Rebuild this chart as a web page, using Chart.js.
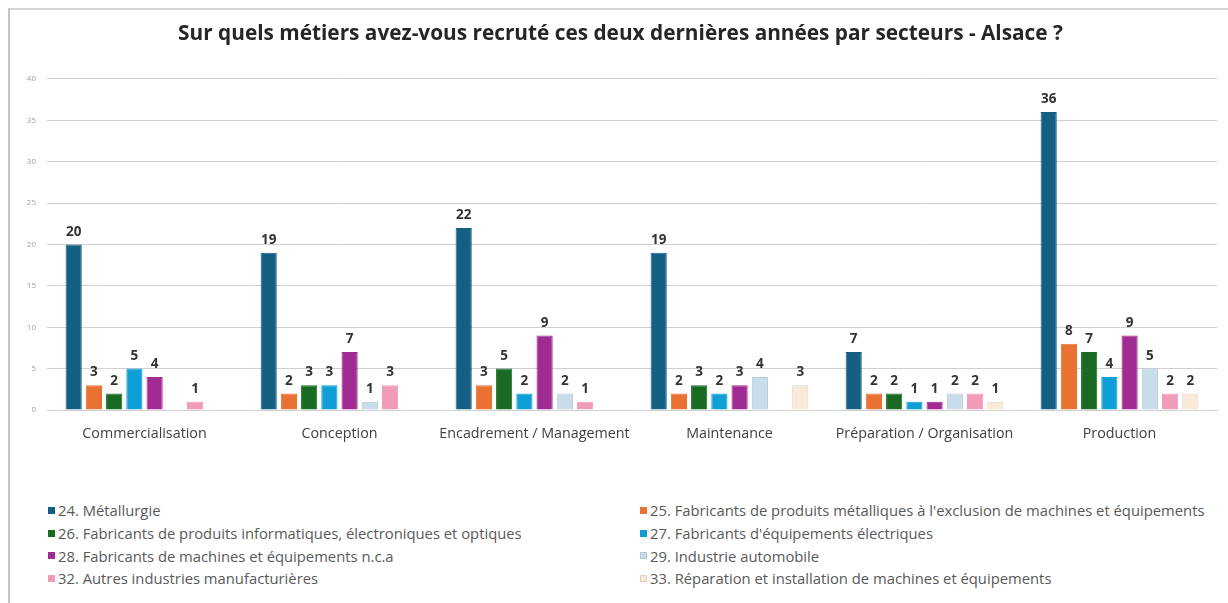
<!DOCTYPE html>
<html lang="fr">
<head>
<meta charset="utf-8">
<script src="https://cdn.jsdelivr.net/npm/chart.js@4.4.1/dist/chart.umd.min.js"></script>
<style>
    html, body {
        margin: 0;
        padding: 0;
        background: #ffffff;
        font-family: "Open Sans", "Liberation Sans", sans-serif;
    }

    .frame {
        position: absolute;
        left: 8px;
        top: 8px;
        width: 1220px;
        height: 595px;
        border-left: 2px solid #c4c4c4;
        border-top: 2px solid #d4d4d4;
    }

    .chart-box {
        position: absolute;
        left: 0;
        top: 0;
        width: 1228px;
        height: 460px;
    }

    .legend {
        position: absolute;
        left: 48px;
        top: 499px;
        width: 1180px;
        display: grid;
        grid-template-columns: 592px 586px;
        row-gap: 0;
        font-size: 14.8px;
        color: #595959;
    }

    .legend-item {
        display: flex;
        align-items: center;
        height: 22.7px;
        white-space: nowrap;
    }

    .legend-swatch {
        width: 7px;
        height: 7px;
        margin-right: 3px;
        box-sizing: border-box;
    }
</style>
</head>
<body>
<div class="frame"></div>
<div class="chart-box"><canvas id="recruit-chart" width="1228" height="460"></canvas></div>
<div class="legend" id="legend"></div>

<script>
const chartTitle = "Sur quels métiers avez-vous recruté ces deux dernières années par secteurs - Alsace ?";

const categories = [
    "Commercialisation",
    "Conception",
    "Encadrement / Management",
    "Maintenance",
    "Préparation / Organisation",
    "Production",
];

const seriesNames = [
    "24. Métallurgie",
    "25. Fabricants de produits métalliques à l'exclusion de machines et équipements",
    "26. Fabricants de produits informatiques, électroniques et optiques",
    "27. Fabricants d'équipements électriques",
    "28. Fabricants de machines et équipements n.c.a",
    "29. Industrie automobile",
    "32. Autres industries manufacturières",
    "33. Réparation et installation de machines et équipements",
];

const metallurgie = [20, 19, 22, 19, 7, 36];
const produitsMetalliques = [3, 2, 3, 2, 2, 8];
const produitsInformatiques = [2, 3, 5, 3, 2, 7];
const equipementsElectriques = [5, 3, 2, 2, 1, 4];
const machinesNca = [4, 7, 9, 3, 1, 9];
const automobile = [null, 1, 2, 4, 2, 5];
const autresIndustries = [1, 3, 1, null, 2, 2];
const reparation = [null, null, null, 3, 1, 2];

const yTicks = [0, 5, 10, 15, 20, 25, 30, 35, 40];

const seriesValues = [
    metallurgie,
    produitsMetalliques,
    produitsInformatiques,
    equipementsElectriques,
    machinesNca,
    automobile,
    autresIndustries,
    reparation,
];

const fillColors = ["#156082", "#e97132", "#196b24", "#0f9ed5", "#a02b93", "#c9dcea", "#f29bb8", "#f8ead8"];
const edgeColors = ["#156082", "#e97132", "#196b24", "#0f9ed5", "#a02b93", "#b3c9d9", "#f29bb8", "#e2d2bf"];

// labels above each bar, skipped for empty values
const barLabels = {
    id: "barLabels",
    afterDatasetsDraw(chart) {
        const ctx = chart.ctx;
        ctx.save();
        ctx.font = "bold 13.5px 'Open Sans', 'Liberation Sans', sans-serif";
        ctx.fillStyle = "#333333";
        ctx.textAlign = "center";
        ctx.textBaseline = "bottom";
        chart.data.datasets.forEach((dataset, i) => {
            const meta = chart.getDatasetMeta(i);
            meta.data.forEach((bar, j) => {
                const value = dataset.data[j];
                if (value === null || value === undefined) {
                    return;
                }
                ctx.fillText(String(value), bar.x, bar.y - 6);
            });
        });
        ctx.restore();
    },
};

const datasets = seriesNames.map((name, i) => ({
    label: name,
    data: seriesValues[i],
    backgroundColor: fillColors[i],
    borderColor: edgeColors[i],
    borderWidth: 1,
    categoryPercentage: 0.83,
    barPercentage: 0.8,
}));

new Chart(document.getElementById("recruit-chart"), {
    type: "bar",
    data: {
        labels: categories,
        datasets: datasets,
    },
    options: {
        responsive: false,
        animation: false,
        layout: {
            padding: { left: 24, right: 11, top: 0, bottom: 10 },
        },
        plugins: {
            legend: { display: false },
            tooltip: { enabled: false },
            title: {
                display: true,
                text: chartTitle,
                color: "#262626",
                font: { family: "'Open Sans', 'Liberation Sans', sans-serif", size: 20.8, weight: "bold" },
                padding: { top: 22, bottom: 32 },
            },
        },
        scales: {
            x: {
                afterFit(scale) {
                    scale.height = 40;
                },
                grid: { display: false, drawTicks: false },
                border: { display: true, color: "#d0d0d0" },
                ticks: {
                    color: "#404040",
                    padding: 15,
                    autoSkip: false,
                    maxRotation: 0,
                    minRotation: 0,
                    font: { family: "'Open Sans', 'Liberation Sans', sans-serif", size: 14.3 },
                },
            },
            y: {
                min: 0,
                max: 40,
                afterFit(scale) {
                    scale.width = 23;
                },
                afterBuildTicks(scale) {
                    scale.ticks = yTicks.map((v) => ({ value: v }));
                },
                grid: {
                    color: "#d0d0d0",
                    drawTicks: false,
                },
                border: { display: false },
                ticks: {
                    color: "#a0a0a0",
                    padding: 11,
                    font: { family: "'Open Sans', 'Liberation Sans', sans-serif", size: 8 },
                },
            },
        },
    },
    plugins: [barLabels],
});

// two-column legend, same order as the reference (row by row)
const legendBox = document.getElementById("legend");
seriesNames.forEach((name, i) => {
    const item = document.createElement("div");
    item.className = "legend-item";
    item.innerHTML = `<span class="legend-swatch" style="background:${fillColors[i]};border:1px solid ${edgeColors[i]}"></span><span>${name}</span>`;
    legendBox.appendChild(item);
});
</script>
</body>
</html>
